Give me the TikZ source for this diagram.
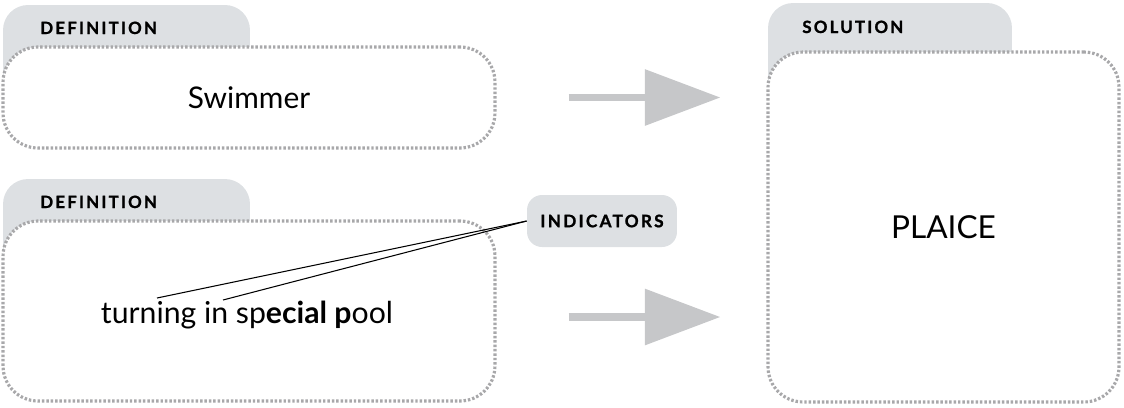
\documentclass[tikz,border=0pt]{standalone}
\usepackage{fontspec}
\setmainfont{Lato}
\newfontfamily\tabfont[LetterSpace=13, BoldFeatures={FakeBold=1.2}]{Lato}
\usepackage{tikz}
\usetikzlibrary{arrows.meta,positioning,calc,backgrounds}
\definecolor{tabgrey}{RGB}{221,224,227}
\definecolor{dotgrey}{RGB}{168,168,170}
\definecolor{arrgrey}{RGB}{198,199,201}
\tikzset{
    tabshape/.style={fill=tabgrey, rounded corners=0.5cm,
                     minimum width=#1, inner sep=0pt},
    tabtitle/.style={font=\tabfont\fontsize{9.6}{11}\selectfont\bfseries,
                     inner sep=0pt, anchor=base west},
    cluebox/.style={draw=dotgrey, fill=white, line width=1.8pt,
                    dash pattern=on 1.4pt off 1.1pt, rounded corners=0.7cm,
                    minimum width=#1, inner sep=0pt, font=\fontsize{18}{22}\selectfont},
    indpill/.style={fill=tabgrey, rounded corners=0.3cm, minimum width=3cm,
                    minimum height=1.04cm, inner sep=0pt,
                    font=\tabfont\fontsize{9.8}{11}\selectfont\bfseries},
    fatarrow/.style={-{Triangle[length=43pt, width=31pt]}, line width=4.5pt,
                     arrgrey, shorten <=1.44cm, shorten >=0.92cm},
}

\begin{document}
\begin{tikzpicture}[x=0.02cm, y=-0.02cm,
    pointer/.style={black, line width=0.6pt}]
    \useasboundingbox (0,0) rectangle (1124,407);

    % tabs behind the boxes
    \node[tabshape=4.94cm, minimum height=2.3cm] (tabA) at (126.5,62.5) {};
    \node[tabshape=4.94cm, minimum height=2.22cm] (tabB) at (126.5,234.5) {};
    \node[tabshape=4.88cm, minimum height=2.54cm] (tabS) at (890,66.5) {};

    \node[tabtitle] (titleA) at (40,34) {DEFINITION};
    \node[tabtitle] (titleB) at (40,208) {DEFINITION};
    \node[tabtitle] (titleS) at (802,33) {SOLUTION};

    % boxes
    \node[cluebox=9.84cm, minimum height=2.02cm, font=\fontsize{17}{20}\selectfont] (def1) at (249,97.5) {Swimmer};
    \node[cluebox=9.84cm, minimum height=3.6cm] (def2) at (249,311) {};
    \node[cluebox=7.02cm, minimum height=7.0cm] (sol) at (943.5,227) {PLAICE};

    \node[font=\fontsize{17.2}{20}\selectfont, inner sep=0pt, anchor=base] (wordplay) at (247,323)
        {turning in sp\textbf{ecial p}ool};

    \node[indpill] (ind) at (602,221) {INDICATORS};

    \coordinate (turnpt) at (157,298);
    \coordinate (inpt) at (223,300);
    \draw[pointer] (ind.west) -- (turnpt);
    \draw[pointer] (ind.west) -- (inpt);

    \draw[fatarrow] (def1.east) -- (def1.east -| sol.west);
    \draw[fatarrow] ([yshift=-0.12cm]def2.east) -- ([yshift=-0.12cm]def2.east -| sol.west);
\end{tikzpicture}
\end{document}
